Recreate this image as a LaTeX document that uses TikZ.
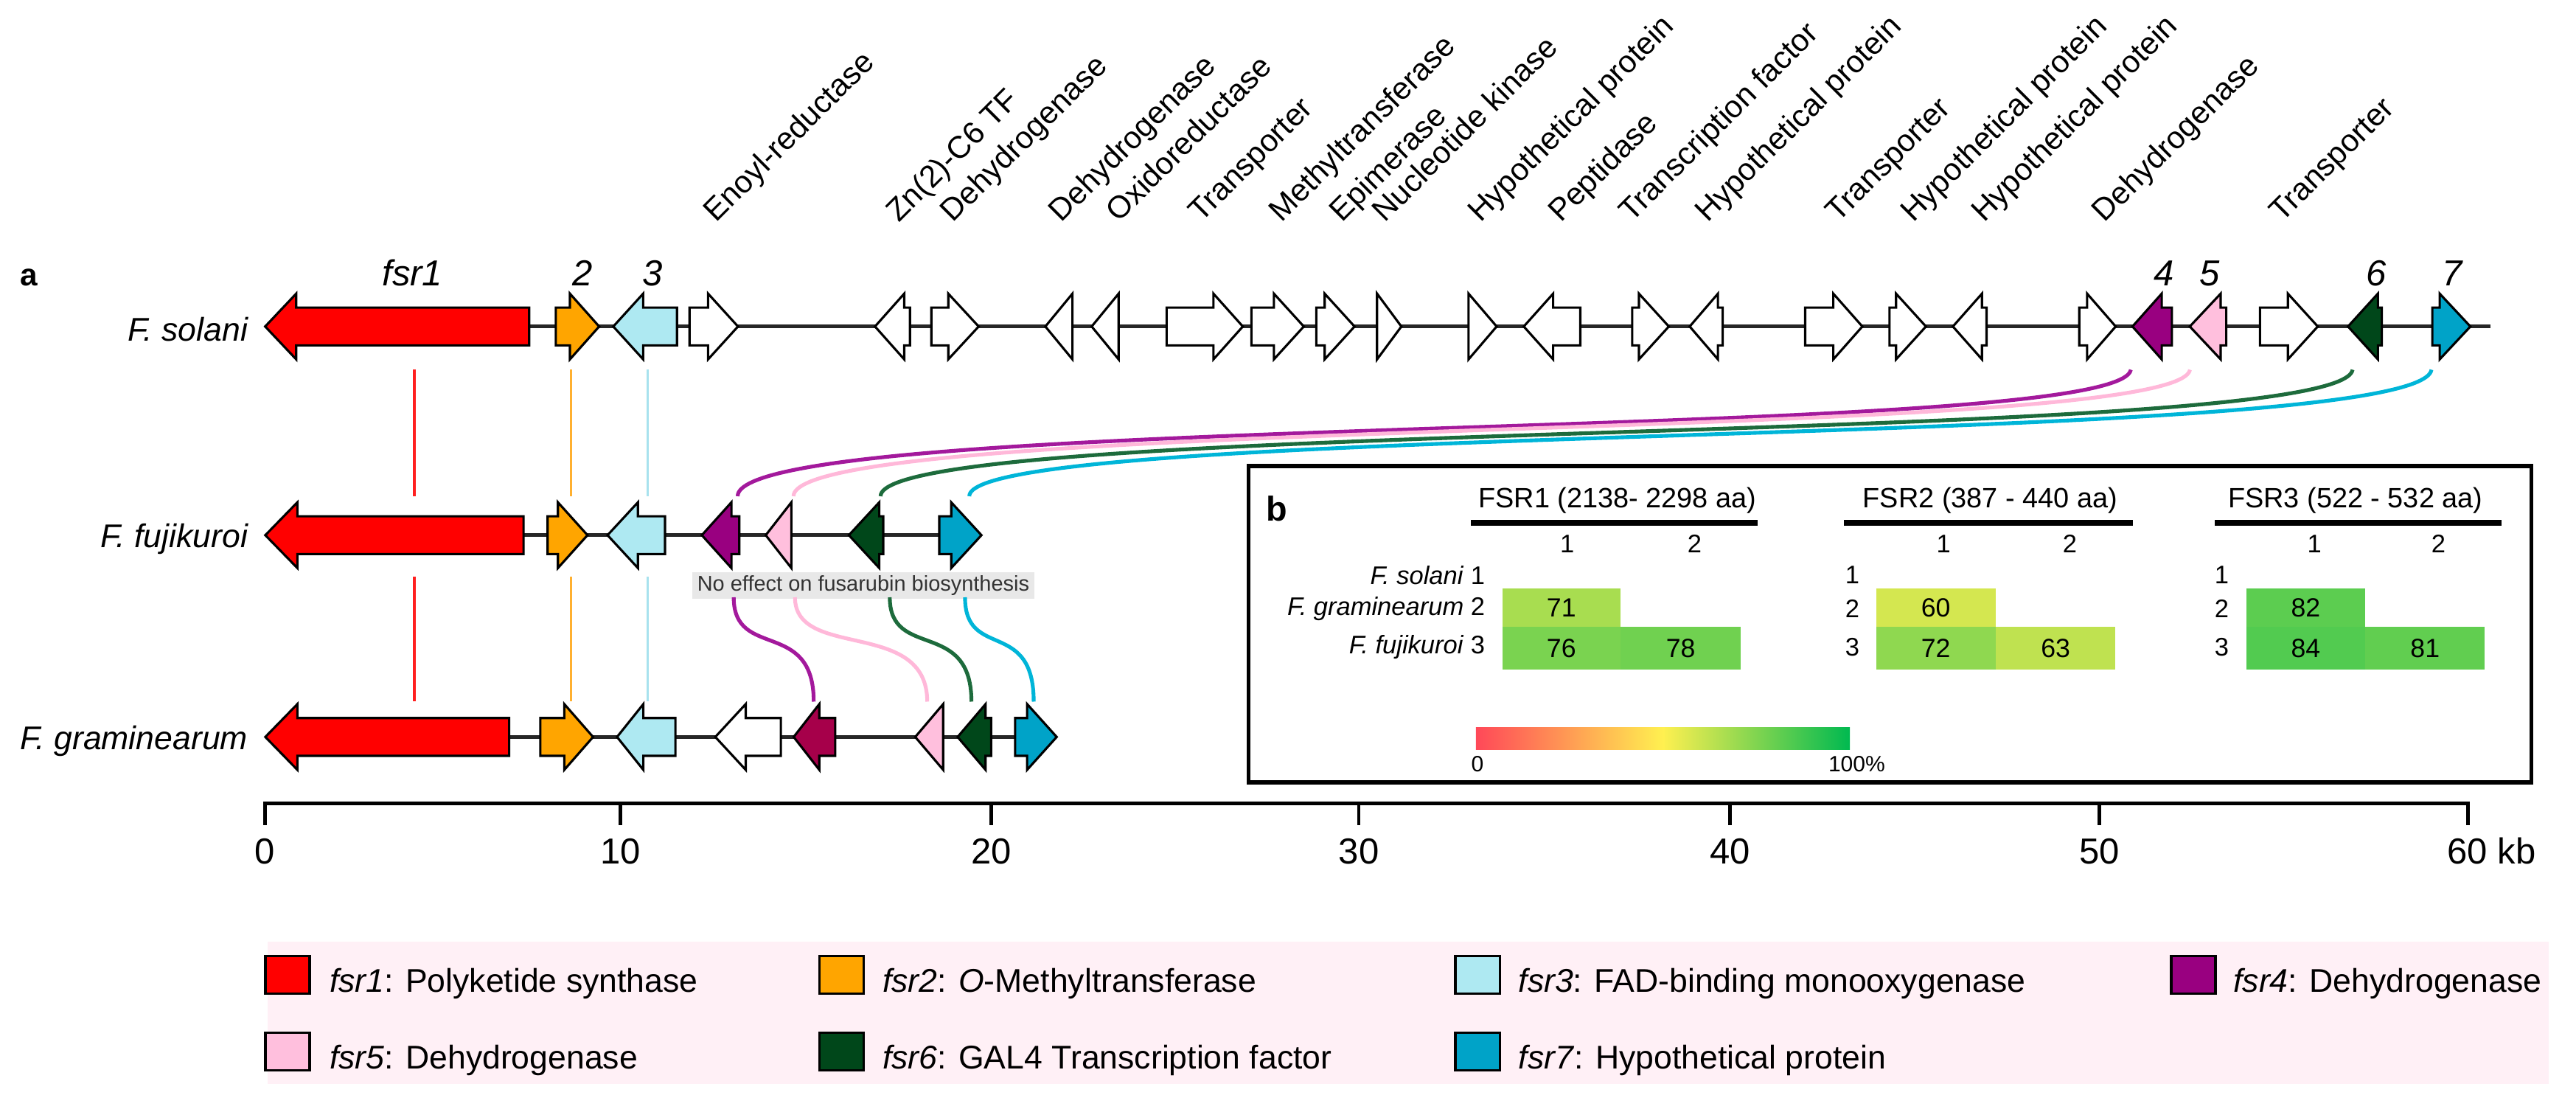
\documentclass[tikz,border=0pt]{standalone}
\usepackage{fontspec}
\setmainfont{Liberation Sans}
\definecolor{cRed}{HTML}{FF0000}
\definecolor{cOra}{HTML}{FFA500}
\definecolor{cLbl}{HTML}{AEE9F2}
\definecolor{cPur}{HTML}{990080}
\definecolor{cPnk}{HTML}{FFBFDD}
\definecolor{cDgr}{HTML}{00471A}
\definecolor{cBlu}{HTML}{00A3C8}
\definecolor{cCrm}{HTML}{A6004A}
\definecolor{lPur}{HTML}{A3199C}
\definecolor{lPnk}{HTML}{FFB8D9}
\definecolor{lGrn}{HTML}{1D6B3C}
\definecolor{lCyn}{HTML}{00B5D8}
\definecolor{lRed}{HTML}{FF2020}
\definecolor{lOra}{HTML}{FFB030}
\definecolor{lLbl}{HTML}{A8E2EE}
\definecolor{legbg}{HTML}{FFF0F6}
\definecolor{hmR}{HTML}{FF4858}
\definecolor{hmY}{HTML}{FFF050}
\definecolor{hmG}{HTML}{00B950}
\newcommand{\geneR}[5]{\filldraw[gene,fill=#1] (#3,#2-11.5) -- (#4,#2-11.5) -- (#4,#2-20) -- (#5,#2) -- (#4,#2+20) -- (#4,#2+11.5) -- (#3,#2+11.5) -- cycle;}
\newcommand{\geneL}[5]{\filldraw[gene,fill=#1] (#3,#2) -- (#4,#2-20) -- (#4,#2-11.5) -- (#5,#2-11.5) -- (#5,#2+11.5) -- (#4,#2+11.5) -- (#4,#2+20) -- cycle;}
\newcommand{\geneTR}[4]{\filldraw[gene,fill=#1] (#3,#2-20) -- (#4,#2) -- (#3,#2+20) -- cycle;}
\newcommand{\geneTL}[4]{\filldraw[gene,fill=#1] (#3,#2) -- (#4,#2-20) -- (#4,#2+20) -- cycle;}
\begin{document}
\begin{tikzpicture}[x=1pt,y=-1pt,
  gene/.style={draw=black, line width=1.4pt, line join=miter},
  backbone/.style={line width=2.2pt, draw=black!85},
  toplab/.style={font=\fontsize{19}{23}\selectfont, anchor=base west, rotate=45, inner sep=0pt},
  spname/.style={font=\fontsize{20}{24}\selectfont\itshape, anchor=base east, inner sep=0pt},
  gnum/.style={font=\fontsize{22}{26}\selectfont\itshape, anchor=base, inner sep=0pt},
  vline/.style={line width=1.5pt},
  curve/.style={line width=2.3pt},
  axlab/.style={font=\fontsize{22}{26}\selectfont, anchor=base, inner sep=0pt},
  hdr/.style={font=\fontsize{17}{20}\selectfont, anchor=base, inner sep=0pt},
  small/.style={font=\fontsize{15.5}{18}\selectfont, inner sep=0pt},
  cellnum/.style={font=\fontsize{16}{19}\selectfont, inner sep=0pt},
  swatch/.style={draw=black, line width=1.5pt, minimum width=27pt, minimum height=23pt, inner sep=0pt},
  legtext/.style={font=\fontsize{20}{24}\selectfont, anchor=base west, inner sep=0pt}
]
\useasboundingbox (0,0) rectangle (1568,676.3);

% ---------- panel label a ----------
\node[font=\fontsize{19}{22}\selectfont\bfseries, anchor=base west, inner sep=0pt] (pa) at (12,174) {a};

% ---------- top rotated labels ----------
\foreach \x/\t [count=\i] in {436/Enoyl-reductase, 547/Zn(2)-C6 TF, 580/Dehydrogenase, 646/Dehydrogenase, 681/Oxidoreductase, 731/Transporter, 780/Methyltransferase, 817/Epimerase, 843/Nucleotide kinase, 901/Hypothetical protein, 950/Peptidase, 993/Transcription factor, 1039.5/Hypothetical protein, 1119/Transporter, 1164.5/Hypothetical protein, 1207.5/Hypothetical protein, 1281/Dehydrogenase, 1389/Transporter}
  \node[toplab] (top\i) at (\x,136) {\t};

% ---------- gene numbers ----------
\node[gnum] (n1) at (251,174) {fsr1};
\node[gnum] (n2) at (354.5,174) {2};
\node[gnum] (n3) at (397,174) {3};
\node[gnum] (n4) at (1317,174) {4};
\node[gnum] (n5) at (1345,174) {5};
\node[gnum] (n6) at (1446.5,174) {6};
\node[gnum] (n7) at (1492.6,174) {7};

% ---------- species names ----------
\node[spname] (sol) at (151,207.5) {F. solani};
\node[spname] (fuj) at (151,333) {F. fujikuroi};
\node[spname] (gra) at (151,456) {F. graminearum};

% ---------- F. solani ----------
\draw[backbone] (161.4,198.7) -- (1515.7,198.7);
\geneL{cRed}{198.7}{161.4}{180.3}{322.1}
\geneR{cOra}{198.7}{338.3}{346.9}{364.7}
\geneL{cLbl}{198.7}{373.3}{391.5}{412.1}
\geneR{white}{198.7}{419.7}{431}{449.2}
\geneL{white}{198.7}{532.6}{550.4}{553.9}
\geneR{white}{198.7}{566.9}{577.2}{595.7}
\geneTL{white}{198.7}{636.3}{652.8}
\geneTL{white}{198.7}{664.5}{680.9}
\geneR{white}{198.7}{710.1}{738.6}{756.5}
\geneR{white}{198.7}{761.7}{775.4}{793.6}
\geneR{white}{198.7}{801.2}{806.3}{824.5}
\geneTR{white}{198.7}{838.2}{853}
\geneTR{white}{198.7}{893.9}{911}
\geneL{white}{198.7}{927.5}{945.4}{961.9}
\geneR{white}{198.7}{993.5}{997.6}{1015.8}
\geneL{white}{198.7}{1028.5}{1045.7}{1048.6}
\geneR{white}{198.7}{1098.8}{1115.9}{1133.6}
\geneR{white}{198.7}{1150.1}{1154.1}{1172.3}
\geneL{white}{198.7}{1188.7}{1206.4}{1209.2}
\geneR{white}{198.7}{1265.6}{1270.4}{1287.8}
\geneL{cPur}{198.7}{1298}{1315.8}{1322}
\geneL{cPnk}{198.7}{1332.9}{1351.7}{1355.1}
\geneR{white}{198.7}{1375.6}{1392.6}{1410.8}
\geneL{cDgr}{198.7}{1429.2}{1447.4}{1449.8}
\geneR{cBlu}{198.7}{1480.5}{1485}{1503.7}

% ---------- F. fujikuroi ----------
\draw[backbone] (161.5,325.7) -- (597.4,325.7);
\geneL{cRed}{325.7}{161.5}{181}{318.7}
\geneR{cOra}{325.7}{333.3}{339.6}{357.6}
\geneL{cLbl}{325.7}{369.8}{388.3}{404.8}
\geneL{cPur}{325.7}{427.2}{445.2}{450}
\geneTL{cPnk}{325.7}{466.1}{481.7}
\geneL{cDgr}{325.7}{516.7}{535.2}{537.6}
\geneR{cBlu}{325.7}{571.7}{579}{597.4}

% ---------- F. graminearum ----------
\draw[backbone] (161.5,448.5) -- (643.2,448.5);
\geneL{cRed}{448.5}{161.5}{181}{309.9}
\geneR{cOra}{448.5}{328.9}{343.5}{361}
\geneL{cLbl}{448.5}{375.6}{391.6}{411.1}
\geneL{white}{448.5}{435.4}{453.9}{475.3}
\geneL{cCrm}{448.5}{483.1}{498.7}{508.4}
\geneTL{cPnk}{448.5}{557.1}{574.1}
\geneL{cDgr}{448.5}{582.9}{599.9}{603.3}
\geneR{cBlu}{448.5}{617.9}{625.2}{643.2}

% ---------- vertical homology lines ----------
\coordinate (ra1) at (252.2,225); \coordinate (ra2) at (252.2,302);
\coordinate (rb1) at (252.2,351); \coordinate (rb2) at (252.2,427);
\coordinate (oa1) at (347.7,225); \coordinate (oa2) at (347.7,302);
\coordinate (ob1) at (347.7,351); \coordinate (ob2) at (347.7,427);
\coordinate (la1) at (394.2,225); \coordinate (la2) at (394.2,302);
\coordinate (lb1) at (394.2,351); \coordinate (lb2) at (394.2,427);
\draw[vline,lRed] (ra1) -- (ra2); \draw[vline,lRed] (rb1) -- (rb2);
\draw[vline,lOra] (oa1) -- (oa2); \draw[vline,lOra] (ob1) -- (ob2);
\draw[vline,lLbl] (la1) -- (la2); \draw[vline,lLbl] (lb1) -- (lb2);

% ---------- curves solani -> fujikuroi ----------
\coordinate (s4) at (1297,225); \coordinate (f4) at (449,302);
\coordinate (s5) at (1333,225); \coordinate (f5) at (483,302);
\coordinate (s6) at (1432,225); \coordinate (f6) at (536,302);
\coordinate (s7) at (1480,225); \coordinate (f7) at (590,302);
\draw[curve,lPur] (s4) .. controls (1290,270) and (449,250) .. (f4);
\draw[curve,lPnk] (s5) .. controls (1326,270) and (483,252) .. (f5);
\draw[curve,lGrn] (s6) .. controls (1425,272) and (536,254) .. (f6);
\draw[curve,lCyn] (s7) .. controls (1473,274) and (590,256) .. (f7);

% ---------- no effect label ----------
\node[fill=black!9, text=black!80, inner xsep=3pt, inner ysep=2pt, font=\fontsize{13}{15}\selectfont] (noeff) at (525.5,356.2) {No effect on fusarubin biosynthesis};

% ---------- curves fujikuroi -> graminearum ----------
\coordinate (u4) at (446.6,363.5); \coordinate (g4) at (495.3,427);
\coordinate (u5) at (483.9,363.5); \coordinate (g5) at (564.4,427);
\coordinate (u6) at (541.6,363.5); \coordinate (g6) at (591.3,427);
\coordinate (u7) at (587.4,363.5); \coordinate (g7) at (629.2,427);
\draw[curve,lPur] (u4) .. controls (446.6,402) and (495.3,376) .. (g4);
\draw[curve,lPnk] (u5) .. controls (483.9,402) and (564.4,376) .. (g5);
\draw[curve,lGrn] (u6) .. controls (541.6,402) and (591.3,376) .. (g6);
\draw[curve,lCyn] (u7) .. controls (587.4,402) and (629.2,376) .. (g7);

% ---------- axis ----------
\coordinate (ax0) at (161.3,489); \coordinate (ax1) at (1502.3,489);
\draw[line width=2.4pt, line cap=rect] (ax0) -- (ax1);
\foreach \x/\l in {161.3/0, 377.6/10, 603.3/20, 827.1/30, 1053/40, 1277.9/50}{
  \draw[line width=2pt] (\x,489) -- (\x,502);
  \node[axlab] (ax\l) at (\x,525.8) {\l};
}
\draw[line width=2pt] (1502.3,489) -- (1502.3,502);
\node[axlab, anchor=base west] (ax60) at (1489.5,525.8) {60 kb};

% ---------- panel b ----------
\draw[line width=2.6pt] (760,283.6) rectangle (1540.8,476);
\node[font=\fontsize{21}{24}\selectfont\bfseries, anchor=base west, inner sep=0pt] (pb) at (770.6,317) {b};
\node[hdr] (h1) at (984.5,309) {FSR1 (2138- 2298 aa)};
\node[hdr] (h2) at (1211.4,309) {FSR2 (387 - 440 aa)};
\node[hdr] (h3) at (1433.7,309) {FSR3 (522 - 532 aa)};
\fill (895.3,316.3) rectangle (1070,319.9);
\fill (1122.3,316.3) rectangle (1298.4,319.9);
\fill (1348.3,316.3) rectangle (1522.8,319.9);
% column numbers
\foreach \x/\l [count=\i] in {953.9/1, 1031.5/2, 1183/1, 1259.9/2, 1408.8/1, 1484.3/2}
  \node[small] (c\i) at (\x,331) {\l};
% row labels
\node[small, anchor=east] (r1) at (904.1,350) {\textit{F. solani} 1};
\node[small, anchor=east] (r2) at (904.1,370.5) {\textit{F. graminearum} 2};
\node[small, anchor=east] (r3) at (904.1,394) {\textit{F. fujikuroi} 3};
\foreach \x/\k in {1127.5/a, 1352.3/b}{
  \node[small] (rr1\k) at (\x,350) {1};
  \node[small] (rr2\k) at (\x,370.5) {2};
  \node[small] (rr3\k) at (\x,394) {3};
}
% cells
\fill[hmG!34!hmY] (914.4,358.3) rectangle (986.3,381.5);
\fill[hmG!52!hmY] (914.4,381.5) rectangle (986.3,407.3);
\fill[hmG!56!hmY] (986.3,381.5) rectangle (1059.7,407.3);
\fill[hmG!17!hmY] (1141.9,358.3) rectangle (1214.7,381.5);
\fill[hmG!44!hmY] (1141.9,381.5) rectangle (1214.7,407.3);
\fill[hmG!25!hmY] (1214.7,381.5) rectangle (1287.7,407.3);
\fill[hmG!64!hmY] (1367.2,358.3) rectangle (1439.7,381.5);
\fill[hmG!68!hmY] (1367.2,381.5) rectangle (1439.7,407.3);
\fill[hmG!62!hmY] (1439.7,381.5) rectangle (1512.5,407.3);
\node[cellnum] (v1) at (950.4,370) {71};
\node[cellnum] (v2) at (950.4,394.5) {76};
\node[cellnum] (v3) at (1023,394.5) {78};
\node[cellnum] (v4) at (1178.3,370) {60};
\node[cellnum] (v5) at (1178.3,394.5) {72};
\node[cellnum] (v6) at (1251.2,394.5) {63};
\node[cellnum] (v7) at (1403.5,370) {82};
\node[cellnum] (v8) at (1403.5,394.5) {84};
\node[cellnum] (v9) at (1476.1,394.5) {81};
% colour bar
\shade[left color=hmR, right color=hmY] (898.4,442.8) rectangle (1012.3,456);
\shade[left color=hmY, right color=hmG] (1012.2,442.8) rectangle (1126,456);
\node[font=\fontsize{13.5}{16}\selectfont, inner sep=0pt] (cb0) at (899.3,465) {0};
\node[font=\fontsize{13.5}{16}\selectfont, inner sep=0pt] (cb1) at (1130.2,465) {100\%};

% ---------- legend ----------
\fill[legbg] (162.8,572.9) rectangle (1551.5,659.7);
\node[swatch, fill=cRed] (sw1) at (175,593.2) {};
\node[swatch, fill=cOra] (sw2) at (512.2,593.2) {};
\node[swatch, fill=cLbl] (sw3) at (899.4,593.2) {};
\node[swatch, fill=cPur] (sw4) at (1335.1,593.2) {};
\node[swatch, fill=cPnk] (sw5) at (175,640) {};
\node[swatch, fill=cDgr] (sw6) at (512.2,640) {};
\node[swatch, fill=cBlu] (sw7) at (899.4,640) {};
\node[legtext] (lg1) at (200.4,603.6) {\textit{fsr1}: Polyketide synthase};
\node[legtext] (lg2) at (537,603.6) {\textit{fsr2}: \textit{O}-Methyltransferase};
\node[legtext] (lg3) at (924.1,603.6) {\textit{fsr3}: FAD-binding monooxygenase};
\node[legtext] (lg4) at (1359.3,603.6) {\textit{fsr4}: Dehydrogenase};
\node[legtext] (lg5) at (200.4,650.4) {\textit{fsr5}: Dehydrogenase};
\node[legtext] (lg6) at (537,650.4) {\textit{fsr6}: GAL4 Transcription factor};
\node[legtext] (lg7) at (924.1,650.4) {\textit{fsr7}: Hypothetical protein};
\end{tikzpicture}
\end{document}
